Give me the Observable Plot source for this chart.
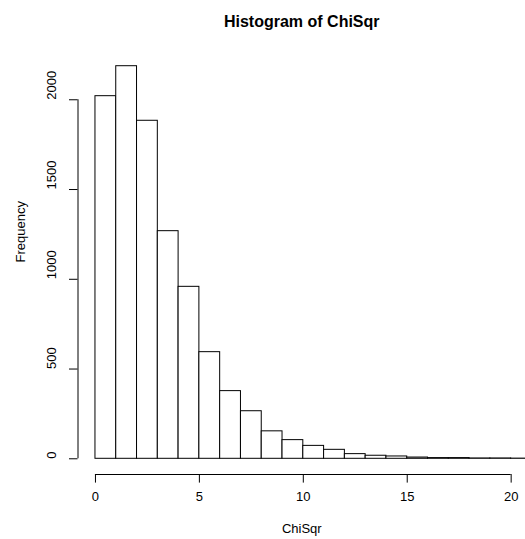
<!DOCTYPE html>
<html>
<head>
<meta charset="utf-8">
<script src="https://cdn.jsdelivr.net/npm/d3@7"></script>
<script src="https://cdn.jsdelivr.net/npm/@observablehq/plot@0.6"></script>
<style>
  html, body { margin: 0; padding: 0; background: #fff; }
  svg { display: block; }
</style>
</head>
<body>
<div id="chart"></div>
<script>
const title = "Histogram of ChiSqr";
const xLabel = "ChiSqr";
const yLabel = "Frequency";
const binStarts = [0,1,2,3,4,5,6,7,8,9,10,11,12,13,14,15,16,17,18,19,20];
const binWidth = 1;
const counts = [2020,2187,1883,1268,958,594,377,265,153,104,72,50,26,17,13,7,4,4,2,2,1];
const xTicks = [0,5,10,15,20];
const yTicks = [0,500,1000,1500,2000];

const bins = binStarts.map((s, i) => ({x1: s, x2: s + binWidth, count: counts[i]}));
const xMax = d3.max(bins, d => d.x2);
const yMax = d3.max(counts);
const xDomain = [-0.04 * xMax, 20.69];
const yDomain = [-0.04 * yMax, 1.04 * yMax];
const font = "Liberation Sans, Arial, Helvetica, sans-serif";

const chart = Plot.plot({
  width: 525,
  height: 539,
  marginLeft: 77.5,
  marginRight: 0,
  marginTop: 50,
  marginBottom: 65,
  style: {fontFamily: font, fontSize: "13px", color: "#000", background: "#fff"},
  x: {domain: xDomain, axis: null},
  y: {domain: yDomain, axis: null},
  marks: [
    Plot.rect(bins, {x1: "x1", x2: "x2", y1: 0, y2: "count", fill: "white", stroke: "black", strokeWidth: 1, clip: "frame"}),
    // y axis (R style)
    Plot.ruleX([xDomain[0]], {y1: yTicks[0], y2: yTicks[yTicks.length - 1], stroke: "black"}),
    Plot.axisY({ticks: yTicks, tickSize: 8.5, tickFormat: () => "", label: null, stroke: "black", anchor: "left"}),
    Plot.text(yTicks, {y: d => d, frameAnchor: "left", dx: -26, rotate: -90, text: d => String(d), fontSize: 13}),
    // x axis (R style)
    Plot.ruleY([yDomain[0]], {x1: xTicks[0], x2: xTicks[xTicks.length - 1], stroke: "black"}),
    Plot.axisX({ticks: xTicks, tickSize: 8.6, tickFormat: () => "", label: null, stroke: "black", anchor: "bottom"}),
    Plot.text(xTicks, {x: d => d, frameAnchor: "bottom", dy: 26, text: d => String(d), fontSize: 13}),
    // labels
    Plot.text([xLabel], {frameAnchor: "bottom", dy: 58.5, fontSize: 13}),
    Plot.text([yLabel], {frameAnchor: "left", dx: -57, rotate: -90, fontSize: 13}),
    Plot.text([title], {frameAnchor: "top", dy: -35, fontSize: 16, fontWeight: "bold"})
  ]
});
document.getElementById("chart").appendChild(chart);
</script>
</body>
</html>
